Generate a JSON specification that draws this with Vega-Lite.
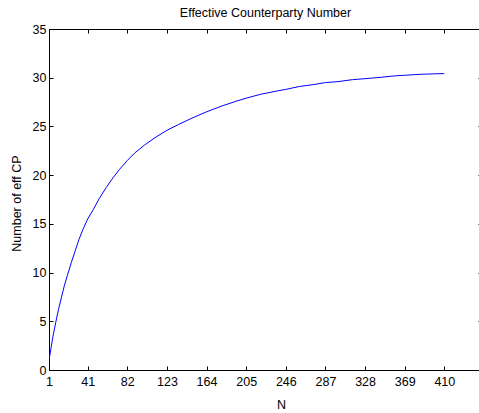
{
  "$schema": "https://vega.github.io/schema/vega-lite/v6.json",
  "autosize": {"type": "none"},
  "padding": {"left": 49, "top": 29, "right": 0, "bottom": 43},
  "width": 433,
  "height": 341,
  "background": "white",
  "config": {
    "view": {"stroke": null},
    "font": "Liberation Sans",
    "axis": {
      "grid": false,
      "domainColor": "black",
      "domainWidth": 1,
      "tickColor": "black",
      "tickWidth": 1,
      "tickSize": -4,
      "labelColor": "black",
      "labelFont": "Liberation Sans",
      "labelFontSize": 12.5,
      "titleFont": "Liberation Sans",
      "titleFontSize": 12.5,
      "titleFontWeight": "normal",
      "titleColor": "black"
    }
  },
  "title": {
    "text": "Effective Counterparty Number",
    "font": "Liberation Sans",
    "fontSize": 12.5,
    "fontWeight": "normal",
    "color": "black",
    "anchor": "middle",
    "frame": "group",
    "baseline": "alphabetic",
    "offset": 10,
    "dy": 16
  },
  "data": {
    "values": [
      {"N": 1, "eff": 1.0},
      {"N": 3, "eff": 2.2},
      {"N": 5, "eff": 3.4},
      {"N": 8, "eff": 4.9},
      {"N": 11, "eff": 6.3},
      {"N": 14, "eff": 7.5},
      {"N": 17, "eff": 8.7},
      {"N": 20, "eff": 9.7},
      {"N": 24, "eff": 11.0},
      {"N": 28, "eff": 12.2},
      {"N": 32, "eff": 13.4},
      {"N": 36, "eff": 14.4},
      {"N": 41, "eff": 15.5},
      {"N": 47, "eff": 16.5},
      {"N": 53, "eff": 17.6},
      {"N": 60, "eff": 18.7},
      {"N": 67, "eff": 19.7},
      {"N": 74, "eff": 20.6},
      {"N": 82, "eff": 21.5},
      {"N": 90, "eff": 22.3},
      {"N": 100, "eff": 23.1},
      {"N": 110, "eff": 23.8},
      {"N": 123, "eff": 24.6},
      {"N": 135, "eff": 25.2},
      {"N": 150, "eff": 25.9},
      {"N": 164, "eff": 26.5},
      {"N": 180, "eff": 27.1},
      {"N": 195, "eff": 27.6},
      {"N": 205, "eff": 27.9},
      {"N": 220, "eff": 28.3},
      {"N": 235, "eff": 28.6},
      {"N": 246, "eff": 28.8},
      {"N": 260, "eff": 29.1},
      {"N": 275, "eff": 29.3},
      {"N": 287, "eff": 29.5},
      {"N": 300, "eff": 29.6},
      {"N": 315, "eff": 29.8},
      {"N": 328, "eff": 29.9},
      {"N": 345, "eff": 30.05},
      {"N": 360, "eff": 30.2},
      {"N": 369, "eff": 30.25},
      {"N": 385, "eff": 30.35},
      {"N": 400, "eff": 30.4},
      {"N": 410, "eff": 30.42}
    ]
  },
  "layer": [
    {
      "mark": {"type": "line", "color": "#0000ff", "strokeWidth": 1, "clip": true},
      "encoding": {
        "x": {
          "field": "N",
          "type": "quantitative",
          "scale": {"domain": [1, 449], "nice": false, "zero": false},
          "axis": {
            "orient": "bottom",
            "title": "N",
            "values": [1, 41, 82, 123, 164, 205, 246, 287, 328, 369, 410],
            "labelPadding": 9,
            "labelFlush": false,
            "labelOverlap": false,
            "titleX": 232,
            "titleY": 38,
            "titleBaseline": "alphabetic",
            "titleAlign": "center"
          }
        },
        "y": {
          "field": "eff",
          "type": "quantitative",
          "scale": {"domain": [0, 35], "nice": false},
          "axis": {
            "orient": "left",
            "title": "Number of eff CP",
            "values": [0, 5, 10, 15, 20, 25, 30, 35],
            "labelPadding": 7,
            "labelFlush": false,
            "labelOverlap": false,
            "titleX": -29,
            "titleY": 174,
            "titleBaseline": "alphabetic",
            "titleAlign": "center",
            "titleAngle": -90
          }
        }
      }
    },
    {
      "mark": {"type": "line", "opacity": 0},
      "encoding": {
        "x": {
          "field": "N",
          "type": "quantitative",
          "axis": {
            "orient": "top",
            "title": null,
            "labels": false,
            "values": [1, 41, 82, 123, 164, 205, 246, 287, 328, 369, 410]
          }
        },
        "y": {
          "field": "eff",
          "type": "quantitative",
          "axis": {
            "orient": "right",
            "title": null,
            "labels": false,
            "values": [0, 5, 10, 15, 20, 25, 30, 35]
          }
        }
      }
    }
  ],
  "resolve": {"axis": {"x": "independent", "y": "independent"}}
}
